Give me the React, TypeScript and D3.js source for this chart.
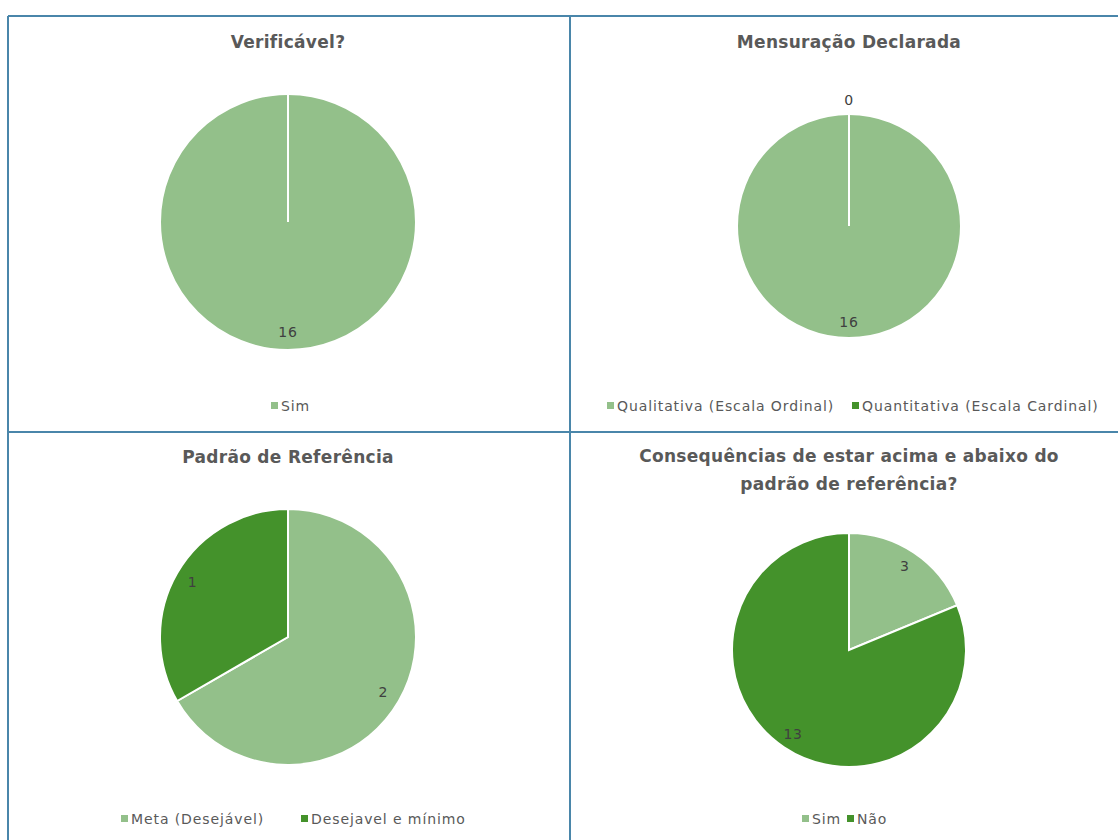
import React from "react";
import * as d3 from "d3";

const LIGHT = "#93c08a";
const DARK = "#44922b";

const verificavelLabels = ["Sim"];
const verificavelValues = [16];

const mensuracaoLabels = ["Qualitativa (Escala Ordinal)", "Quantitativa (Escala Cardinal)"];
const mensuracaoValues = [16, 0];

const padraoLabels = ["Meta (Desejável)", "Desejavel e mínimo"];
const padraoValues = [2, 1];

const consequenciasLabels = ["Sim", "Não"];
const consequenciasValues = [3, 13];

const colors = [LIGHT, DARK];
const FONT = "'DejaVu Sans', sans-serif";

type PanelProps = {
  title: string[];
  titleY: number;
  labels: string[];
  values: number[];
  cx: number;
  cy: number;
  r: number;
  legendY: number;
  legendX: number[];
};

function PiePanel({ title, titleY, labels, values, cx, cy, r, legendY, legendX }: PanelProps) {
  const pie = d3.pie<number>().sort(null).value((d) => d)(values);
  const arc = d3.arc<d3.PieArcDatum<number>>().innerRadius(0).outerRadius(r);
  return (
    <g>
      {title.map((t, i) => (
        <text key={i} x={cx} y={titleY + i * 28} textAnchor="middle" fontFamily={FONT}
          fontSize={17} letterSpacing={0.3} fontWeight="bold" fill="#595959">{t}</text>
      ))}
      {pie.map((p, i) => (
        <path key={i} d={arc(p) || ""} transform={`translate(${cx},${cy})`}
          fill={colors[i]} stroke="#ffffff" strokeWidth={2} />
      ))}
      {pie.map((p, i) =>
        p.endAngle - p.startAngle >= 2 * Math.PI - 1e-6 ? (
          <line key={"s" + i} x1={cx} y1={cy} x2={cx + Math.sin(p.startAngle) * r}
            y2={cy - Math.cos(p.startAngle) * r} stroke="#ffffff" strokeWidth={2} />
        ) : null
      )}
      {pie.map((p, i) => {
        const mid = (p.startAngle + p.endAngle) / 2;
        const dist = p.value === 0 ? r + 14 : r * 0.86;
        const x = cx + Math.sin(mid) * dist;
        const y = cy - Math.cos(mid) * dist;
        return (
          <text key={"l" + i} x={x} y={y} dy="0.35em" textAnchor="middle" fontFamily={FONT}
            fontSize={14} letterSpacing={0.8} fill="#404040">{p.value}</text>
        );
      })}
      {labels.map((l, i) => (
        <g key={"g" + i}>
          <rect x={legendX[i]} y={legendY - 4} width={7} height={7} fill={colors[i]} />
          <text x={legendX[i] + 10} y={legendY} dy="0.35em" fontFamily={FONT} fontSize={14}
            letterSpacing={0.9} fill="#595959">{l}</text>
        </g>
      ))}
    </g>
  );
}

export default function App() {
  const border = "#4a86aa";
  return (
    <svg width={1118} height={840} style={{ position: "absolute", left: 0, top: 0 }}>
      <rect x={0} y={0} width={1118} height={840} fill="#ffffff" />
      <line x1={8} y1={16} x2={1118} y2={16} stroke={border} strokeWidth={2} />
      <line x1={8} y1={16} x2={8} y2={840} stroke={border} strokeWidth={2} />
      <line x1={570} y1={16} x2={570} y2={840} stroke={border} strokeWidth={2} />
      <line x1={8} y1={432} x2={1118} y2={432} stroke={border} strokeWidth={2} />
      <PiePanel title={["Verificável?"]} titleY={48} labels={verificavelLabels}
        values={verificavelValues} cx={288} cy={222} r={128} legendY={406} legendX={[271]} />
      <PiePanel title={["Mensuração Declarada"]} titleY={48} labels={mensuracaoLabels}
        values={mensuracaoValues} cx={849} cy={226} r={112} legendY={406} legendX={[607, 852]} />
      <PiePanel title={["Padrão de Referência"]} titleY={463} labels={padraoLabels}
        values={padraoValues} cx={288} cy={637} r={128} legendY={819} legendX={[121, 301]} />
      <PiePanel title={["Consequências de estar acima e abaixo do", "padrão de referência?"]} titleY={462}
        labels={consequenciasLabels} values={consequenciasValues} cx={849} cy={650} r={117}
        legendY={819} legendX={[802, 847]} />
    </svg>
  );
}
